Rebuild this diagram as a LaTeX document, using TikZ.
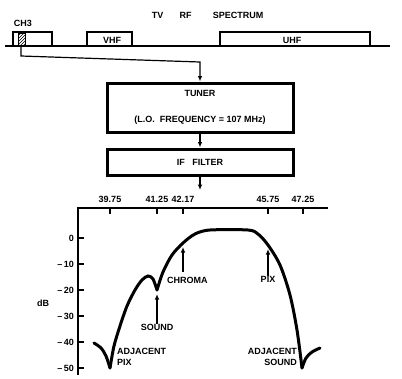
\documentclass[tikz,border=0pt]{standalone}
\usepackage{fontspec}
\setmainfont{Liberation Sans}
\usetikzlibrary{arrows.meta,positioning,patterns}

\begin{document}
\begin{tikzpicture}[x=1pt,y=-1pt,>={Latex[length=5.5pt,width=4.5pt]},
    lbl/.style={font=\fontsize{9}{11}\selectfont\bfseries,inner sep=0pt},
    blockbox/.style={draw,line width=3pt,minimum width=186pt,align=center,
      font=\fontsize{9}{11}\selectfont\bfseries},
    band/.style={line width=2.8pt,line join=miter},
    curve/.style={line width=3pt,line cap=round}]
    \useasboundingbox (0,0) rectangle (402,378);
    % rf spectrum
    \node[lbl] (tv) at (157.5,15) {TV};
    \node[lbl] (rf) at (185.5,15) {RF};
    \node[lbl] (spec) at (238,15) {SPECTRUM};
    \draw[line width=1.8pt] (5,46) -- (390,46);
    \draw[band] (13,46) -- (13,32) -- (52,32) -- (52,46);
    \draw[band] (87,46) -- (87,32) -- (132,32) -- (132,46);
    \draw[band] (220,46) -- (220,32) -- (370,32) -- (370,46);
    \draw[pattern=north east lines,line width=0.8pt] (18,33) rectangle (25,46);
    \node[lbl] (ch3) at (23,23) {CH3};
    \node[lbl] (vhf) at (112,40) {VHF};
    \node[lbl] (uhf) at (292,40) {UHF};
    % tuner and filter
    \node[blockbox,minimum height=49pt] (tuner) at (200,107.5)
        {TUNER\\[15pt](L.O.\ \ FREQUENCY = 107 MHz)};
    \node[blockbox,minimum height=26pt] (filter) at (200,162) {IF\ \ \ FILTER};
    \coordinate (tap) at (21,46);
    \coordinate (bend) at (200,62);
    \coordinate (ifout) at (200,190);
    \draw[line width=1.2pt,->] (tap) -- (21,56) -- (bend) -- (tuner.north);
    \draw[line width=1.2pt,->] (tuner.south) -- (filter.north);
    \draw[line width=1.2pt,->] (filter.south) -- (ifout);
    % response
    \draw[line width=2.5pt] (328,208) -- (78,208) -- (78,375);
    \foreach \x/\f in {110/39.75,157/41.25,183/42.17,268/45.75,303/47.25} {
        \draw[line width=1.8pt] (\x,208) -- (\x,214);
        \node[lbl] at (\x,199) {\f};
    }
    \foreach \y/\d in {238/0,264/--\,10,290/--\,20,316/--\,30,342/--\,40,368/--\,50} {
        \draw[line width=1.8pt] (78,\y) -- (84,\y);
        \node[lbl,anchor=east] at (74,\y) {\d};
    }
    \node[lbl] (db) at (43,303) {dB};
    \draw[curve] plot[smooth] coordinates {(94,343) (101,348) (106,356) (110,368)};
    \draw[curve] plot[smooth] coordinates {(110,368) (114,346) (120,326) (127,306)
        (135,290) (142,280) (148,276) (153,279) (157,290)};
    \draw[curve] plot[smooth] coordinates {(157,290) (163,272) (172,255) (183,243)
        (195,234) (210,230) (248,230) (258,234) (268,245) (280,265) (290,295)
        (297,330) (302,368)};
    \draw[curve] plot[smooth] coordinates {(302,368) (306,358) (312,352) (320,348)};
    % markers
    \node[lbl,anchor=west] (chroma) at (167,280) {CHROMA};
    \node[lbl] (sound) at (157,327) {SOUND};
    \node[lbl] (pix) at (268,279) {PIX};
    \node[lbl,anchor=west,align=left] (adjpix) at (117,357) {ADJACENT\\PIX};
    \node[lbl,anchor=east,align=right] (adjsnd) at (297,357) {ADJACENT\\SOUND};
    \draw[line width=1.2pt,->] (183,272) -- (183,247);
    \draw[line width=1.2pt,->] (sound.north) -- (157,294);
    \draw[line width=1.2pt,->] (pix.north) -- (268,249);
\end{tikzpicture}
\end{document}
